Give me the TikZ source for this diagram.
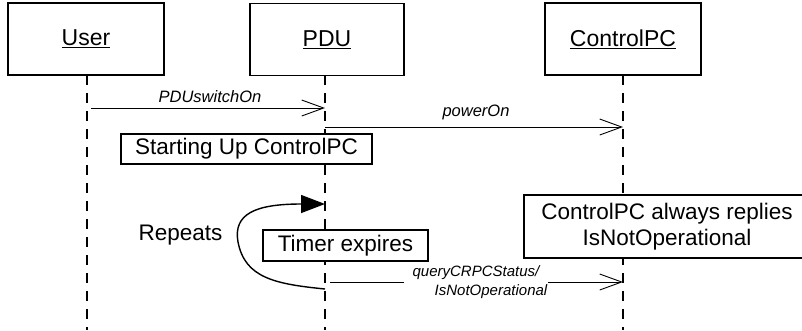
\documentclass[tikz,border=0pt]{standalone}
\usepackage{fontspec}
\setmainfont{Liberation Sans}
\usetikzlibrary{arrows.meta}

\tikzset{
  actor/.style={draw, line width=1.3bp, fill=white, inner sep=0pt,
    minimum height=72bp, font=\fontsize{23bp}{26bp}\selectfont},
  notebox/.style={draw, line width=1.3bp, fill=white, inner sep=0pt,
    align=center, font=\fontsize{22.5bp}{26bp}\selectfont},
  lifeline/.style={line width=1.2bp, dash pattern=on 10bp off 8bp},
  msg/.style={line width=0.9bp, -{Straight Barb[length=22bp,width=16bp,line width=0.9bp]}},
  msglabel/.style={font=\fontsize{16.5bp}{19bp}\selectfont\itshape, inner sep=1bp},
  loopline/.style={line width=1.4bp, -{Triangle[length=24bp,width=18bp]}},
}

\begin{document}
\begin{tikzpicture}[x=1bp, y=-1bp]
  \useasboundingbox (0,0) rectangle (802,330);

  % participants
  \node[actor, minimum width=156bp] (user) at (86,39) {\underline{User}};
  \node[actor, minimum width=154bp] (pdu)  at (327,39.5) {\underline{PDU}};
  \node[actor, minimum width=156bp] (cpc)  at (623,39) {\underline{ControlPC}};

  % lifeline ends
  \coordinate (userEnd) at (87,330);
  \coordinate (pduEnd)  at (325,330);
  \coordinate (cpcEnd)  at (623,330);
  \coordinate (userTop) at (87,75);
  \coordinate (pduTop)  at (325,75);
  \coordinate (cpcTop)  at (623,75);

  \draw[lifeline] (userTop) -- (userEnd);
  \draw[lifeline] (pduTop) -- (pduEnd);
  \draw[lifeline] (cpcTop) -- (cpcEnd);

  % message anchor points on the lifelines
  \coordinate (m1s) at (91,108);
  \coordinate (m1e) at (325,108);
  \coordinate (m2s) at (325,127);
  \coordinate (m2e) at (623,127);
  \coordinate (m3s) at (330,282);
  \coordinate (m3e) at (623,282);
  \coordinate (loopS) at (325,289);
  \coordinate (loopE) at (325,204);

  % messages
  \draw[msg] (m1s) -- (m1e);
  \node[msglabel] (l1) at (210,97) {PDUswitchOn};
  \draw[msg] (m2s) -- (m2e);
  \node[msglabel] (l2) at (476,112) {powerOn};
  \draw[msg] (m3s) -- (m3e);
  \node[msglabel, fill=white, align=center,
        font=\fontsize{15bp}{19bp}\selectfont\itshape] (l3) at (476,282)
        {queryCRPCStatus/\\\hspace*{30bp}IsNotOperational};

  % notes
  \node[notebox, minimum width=251bp, minimum height=30bp] (start) at (246.5,149)
        {Starting Up ControlPC};
  \node[notebox, minimum width=165bp, minimum height=31bp] (timer) at (345.5,245.5)
        {Timer expires};
  \node[notebox, minimum width=286bp, minimum height=63bp] (reply) at (667,226.5)
        {ControlPC always replies\\IsNotOperational};

  % repetition loop
  \draw[loopline] (loopS) .. controls (275,284) and (245,278) .. (238,242)
                  .. controls (233,214) and (255,204) .. (loopE);
  \node[font=\fontsize{22.5bp}{26bp}\selectfont] (rep) at (180.5,235) {Repeats};
\end{tikzpicture}
\end{document}
